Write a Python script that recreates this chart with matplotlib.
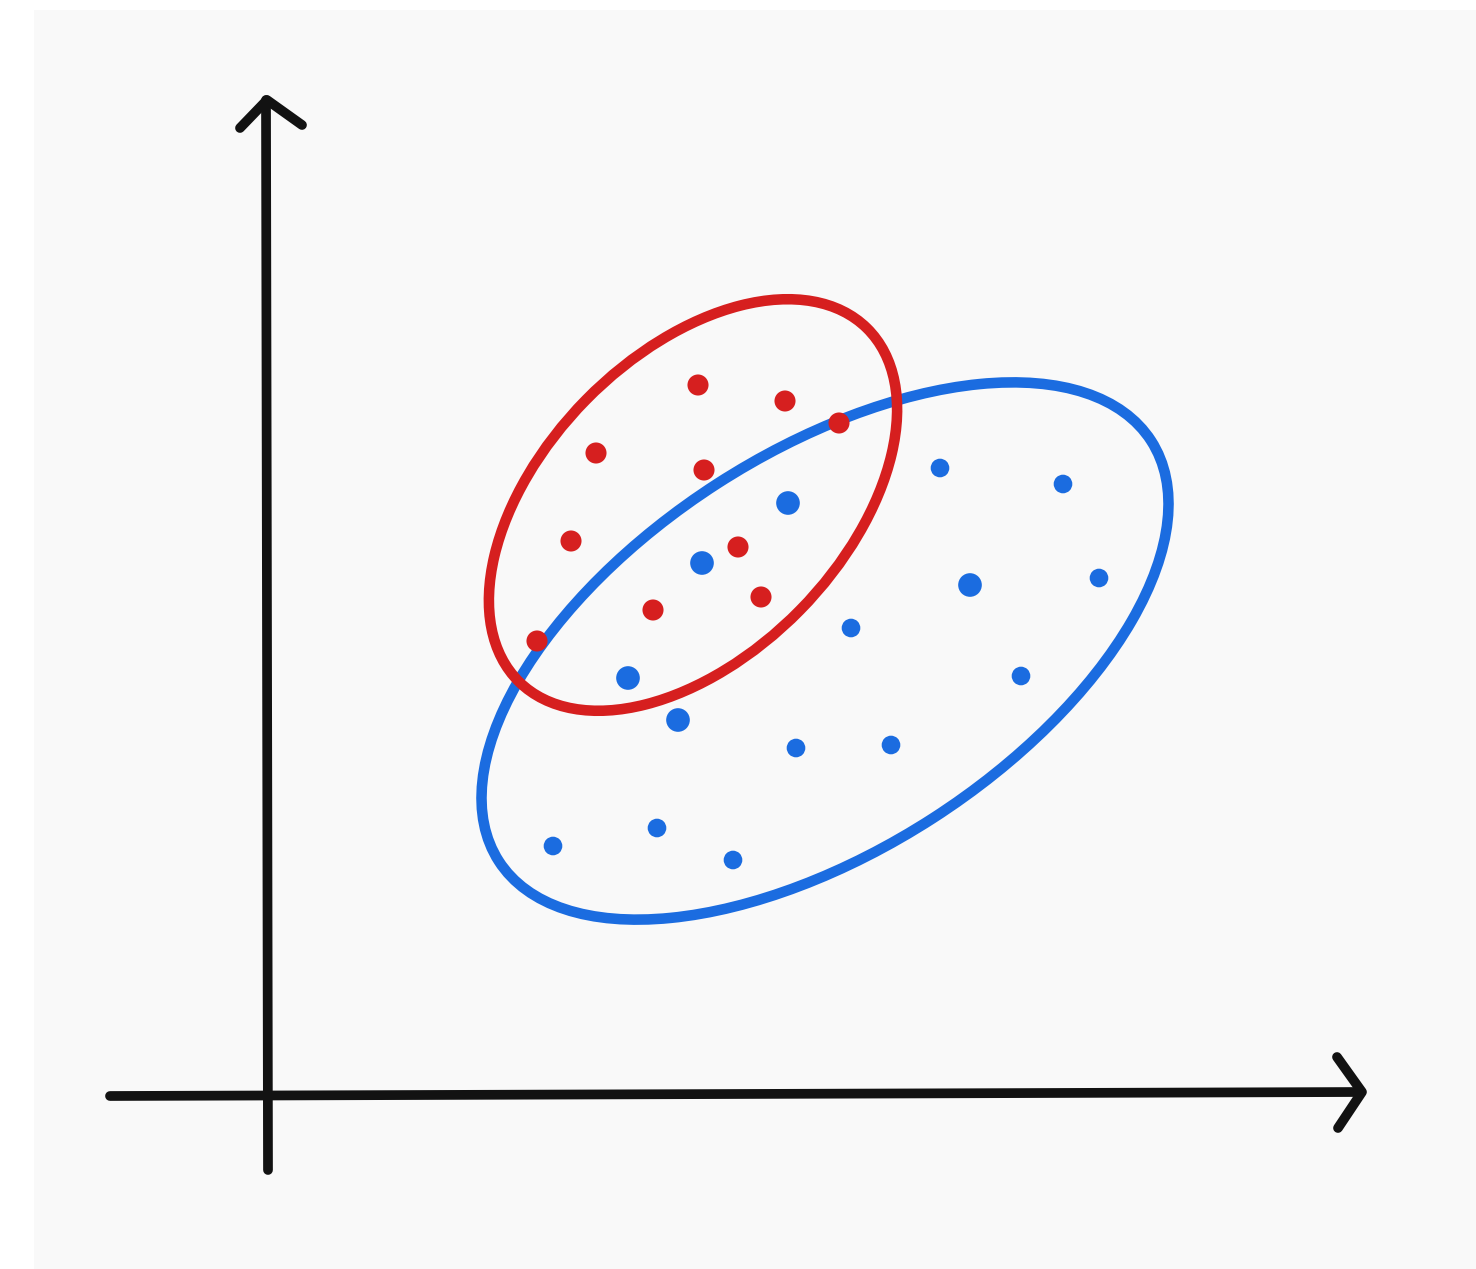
import matplotlib
matplotlib.use("Agg")
import matplotlib.pyplot as plt
from matplotlib.patches import Ellipse, Rectangle

# Two clusters of observations
red_x = [4.30, 5.17, 5.71, 3.28, 4.36, 3.03, 4.70, 3.85, 4.93, 2.69]
red_y = [7.12, 6.96, 6.74, 6.44, 6.27, 5.56, 5.50, 4.87, 5.00, 4.56]

blue_x = [6.72, 7.95, 5.20, 4.34, 7.02, 8.31, 5.83, 7.53, 3.60, 4.10, 5.28, 6.23, 3.89, 2.85, 4.65]
blue_y = [6.29, 6.13, 5.94, 5.34, 5.12, 5.19, 4.69, 4.21, 4.19, 3.77, 3.49, 3.52, 2.69, 2.51, 2.37]
blue_big = [False, False, True, True, True, False, False, False, True, True, False, False, False, False, False]

# Cluster outlines: center, full width, full height, rotation (deg)
red_ellipse = dict(xy=(4.25, 5.92), width=4.96, height=3.00, angle=45.5)
blue_ellipse = dict(xy=(5.57, 4.46), width=7.76, height=3.98, angle=32.8)

RED = "#d61f1f"
BLUE = "#1b6ce0"
INK = "#121212"

fig = plt.figure(figsize=(14.76, 12.69), dpi=100, facecolor="white")
ax = fig.add_axes([0, 0, 1, 1])
ax.set_xlim(-2.68, 12.08)
ax.set_ylim(-1.72, 10.97)
ax.set_aspect("equal")
ax.axis("off")

# light paper background
ax.add_patch(Rectangle((-2.34, -1.72), 14.42, 12.59, facecolor="#f9f9f9",
                       edgecolor="none", zorder=0))

lw_axis = 7.0
# y axis with arrow head
ax.plot([0.0, -0.02], [-0.73, 9.97], color=INK, lw=lw_axis,
        solid_capstyle="round", zorder=2)
ax.plot([-0.28, -0.01, 0.34], [9.69, 9.97, 9.72], color=INK, lw=lw_axis,
        solid_capstyle="round", solid_joinstyle="round", zorder=2)
# x axis with arrow head
ax.plot([-1.58, 10.92], [0.01, 0.05], color=INK, lw=lw_axis,
        solid_capstyle="round", zorder=2)
ax.plot([10.69, 10.94, 10.70], [0.40, 0.05, -0.31], color=INK, lw=lw_axis,
        solid_capstyle="round", solid_joinstyle="round", zorder=2)

# cluster outlines
ax.add_patch(Ellipse(**blue_ellipse, fill=False, edgecolor=BLUE, lw=7.6, zorder=3))
ax.add_patch(Ellipse(**red_ellipse, fill=False, edgecolor=RED, lw=7.6, zorder=4))

# points
sizes = [290 if b else 180 for b in blue_big]
ax.scatter(blue_x, blue_y, s=sizes, color=BLUE, edgecolors="none", zorder=5)
ax.scatter(red_x, red_y, s=230, color=RED, edgecolors="none", zorder=6)

fig.savefig("out.png", dpi=100, facecolor="white")
